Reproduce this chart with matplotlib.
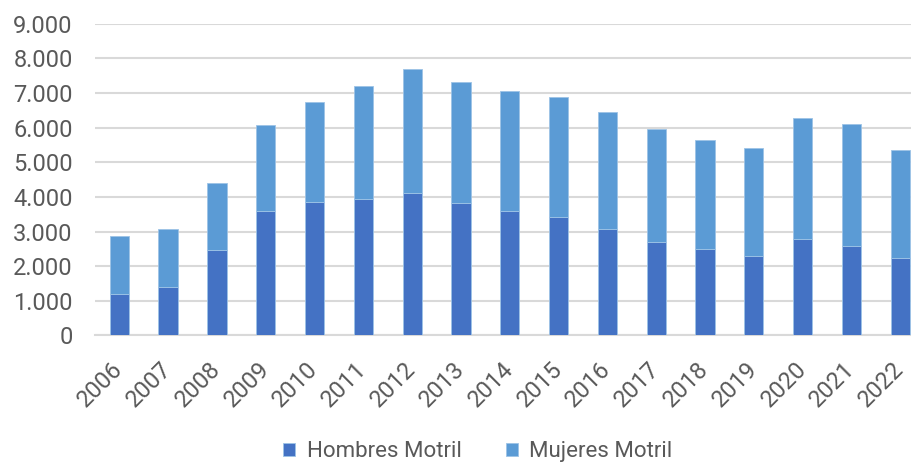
import matplotlib.pyplot as plt
import matplotlib.ticker as mticker
import numpy as np

plt.rcParams['font.family'] = ['Roboto', 'DejaVu Sans']

years = ['2006', '2007', '2008', '2009', '2010', '2011', '2012', '2013', '2014',
         '2015', '2016', '2017', '2018', '2019', '2020', '2021', '2022']
hombres = [1200, 1390, 2480, 3590, 3840, 3950, 4120, 3830, 3600,
           3430, 3080, 2700, 2500, 2300, 2790, 2590, 2240]
totales = [2860, 3080, 4390, 6080, 6740, 7190, 7690, 7320, 7060,
           6890, 6460, 5950, 5630, 5400, 6280, 6090, 5360]
mujeres = [t - h for t, h in zip(totales, hombres)]

c_h = '#4472C4'
c_m = '#5B9BD5'
txt = '#595959'

fig = plt.figure(figsize=(9.12, 4.62), dpi=100)
ax = fig.add_axes([0.104, 0.274, 0.896, 0.6747])

x = np.arange(len(years))
w = 0.395
ax.bar(x, hombres, w, color=c_h, edgecolor='#9DC3E6', linewidth=0.6,
       label='Hombres Motril', zorder=3)
ax.bar(x, mujeres, w, bottom=hombres, color=c_m, edgecolor='#9DC3E6',
       linewidth=0.6, label='Mujeres Motril', zorder=3)

ax.set_ylim(0, 9000)
ax.set_xlim(-0.5, 16.24)
ax.yaxis.set_major_locator(mticker.MultipleLocator(1000))
ax.yaxis.set_major_formatter(mticker.FuncFormatter(
    lambda v, p: f'{int(v):,}'.replace(',', '.')))
ax.grid(axis='y', color='#D9D9D9', linewidth=1.5, zorder=0)
for s in ['top', 'right', 'left']:
    ax.spines[s].set_visible(False)
ax.spines['bottom'].set_color('#D9D9D9')
ax.spines['bottom'].set_linewidth(1.5)
ax.tick_params(axis='both', length=0, colors=txt, labelsize=17)
ax.tick_params(axis='y', pad=16)
ax.tick_params(axis='x', pad=22)
ax.set_xticks(x)
ax.set_xticklabels(years, rotation=45, ha='right', va='center',
                   rotation_mode='anchor')

fig.legend(loc='center', bbox_to_anchor=(0.524, 0.022), ncol=2, frameon=False,
           fontsize=16, labelcolor=txt, handlelength=0.55, handleheight=0.55,
           handletextpad=0.5, columnspacing=2.0)

fig.savefig('out.png', dpi=100)
